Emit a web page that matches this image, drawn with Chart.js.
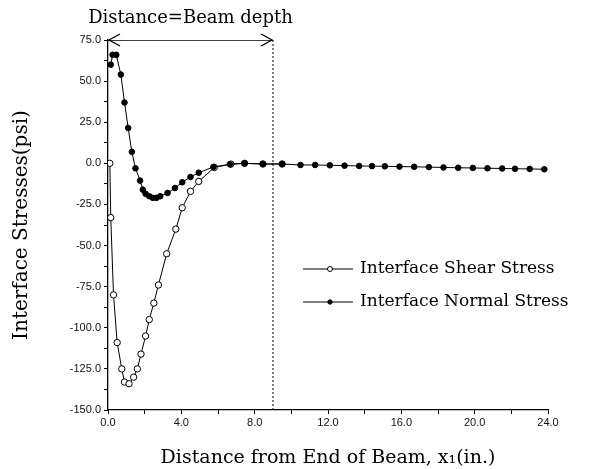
<!DOCTYPE html>
<html>
<head>
<meta charset="utf-8">
<script src="https://cdn.jsdelivr.net/npm/chart.js@4"></script>
<style>
  html, body { margin: 0; padding: 0; background: #fff; }
</style>
</head>
<body>
<canvas id="myChart" width="596" height="469"></canvas>
<script>
// Interface shear stress (open circles)
const shearX = [0.1, 0.15, 0.3, 0.5, 0.75, 0.9, 1.15, 1.4, 1.6, 1.8, 2.05, 2.25, 2.5, 2.75, 3.2, 3.7, 4.05, 4.5, 4.95, 5.8, 6.7, 7.45, 8.45, 9.5];
const shearY = [0, -33, -80, -109, -125, -133, -134, -130, -125, -116, -105, -95, -85, -74, -55, -40, -27, -17, -11, -2.5, -0.5, 0, -0.4, -0.4];

// Interface normal stress (filled circles)
const normalX = [0.15, 0.25, 0.45, 0.7, 0.9, 1.1, 1.3, 1.5, 1.75, 1.9, 2.05, 2.25, 2.45, 2.65, 2.85, 3.25, 3.65, 4.05, 4.5, 4.95, 5.75, 6.65, 7.45, 8.45, 9.5, 10.5, 11.3, 12.1, 12.9, 13.7, 14.4, 15.1, 15.9, 16.7, 17.5, 18.3, 19.1, 19.9, 20.7, 21.5, 22.2, 23.0, 23.8];
const normalY = [60, 66, 66, 54, 37, 21.5, 7, -3, -10.5, -16, -18.5, -20, -21, -21, -20, -18, -15, -11.5, -8.3, -5.7, -2.2, -0.6, 0, -0.4, -0.4, -1, -1, -1.2, -1.4, -1.6, -1.7, -1.8, -2, -2.1, -2.3, -2.5, -2.7, -2.8, -3, -3.1, -3.3, -3.4, -3.6];

const beamDepth = 9;
const xTicks = [0, 4, 8, 12, 16, 20, 24];
const yTicks = [75, 50, 25, 0, -25, -50, -75, -100, -125, -150];
const seriesNames = ["Interface Shear Stress", "Interface Normal Stress"];
const annotationLabel = "Distance=Beam depth";

const serif = '"DejaVu Serif", "Liberation Serif", serif';
const sans = '"Liberation Sans", Arial, sans-serif';

const toPoints = (xs, ys) => xs.map((x, i) => ({ x: x, y: ys[i] }));

// arrowheads, label above the arrow, and the legend box
const annotate = {
  id: "annotate",
  afterDatasetsDraw(chart) {
    const ctx = chart.ctx;
    const xs = chart.scales.x;
    const ys = chart.scales.y;
    const yTop = ys.getPixelForValue(ys.max);
    const x0 = xs.getPixelForValue(0);
    const x1 = xs.getPixelForValue(beamDepth);
    ctx.save();
    ctx.strokeStyle = "#000";
    ctx.lineWidth = 1.3;
    ctx.beginPath();
    ctx.moveTo(x0 + 12, yTop - 6);
    ctx.lineTo(x0 + 1, yTop);
    ctx.lineTo(x0 + 12, yTop + 6);
    ctx.moveTo(x1 - 12, yTop - 6);
    ctx.lineTo(x1 - 1, yTop);
    ctx.lineTo(x1 - 12, yTop + 6);
    ctx.stroke();

    ctx.fillStyle = "#000";
    ctx.font = "18px " + serif;
    ctx.textAlign = "center";
    ctx.textBaseline = "middle";
    ctx.fillText(annotationLabel, (x0 + x1) / 2, 18);

    // legend
    const lx = 303, rows = [269, 302];
    ctx.font = "17px " + serif;
    ctx.textAlign = "left";
    rows.forEach((ry, i) => {
      ctx.lineWidth = 1;
      ctx.beginPath();
      ctx.moveTo(lx, ry);
      ctx.lineTo(lx + 50, ry);
      ctx.stroke();
      ctx.beginPath();
      ctx.arc(lx + 27, ry, i === 0 ? 2.5 : 2.2, 0, Math.PI * 2);
      ctx.fillStyle = i === 0 ? "#fff" : "#000";
      ctx.fill();
      ctx.stroke();
      ctx.fillStyle = "#000";
      ctx.fillText(seriesNames[i], lx + 57, ry);
    });
    ctx.restore();
  }
};

const ctx = document.getElementById("myChart").getContext("2d");
new Chart(ctx, {
  type: "scatter",
  data: {
    datasets: [
      {
        label: seriesNames[1],
        data: toPoints(normalX, normalY),
        showLine: true,
        borderColor: "#000",
        borderWidth: 1,
        pointRadius: 2.8,
        pointBackgroundColor: "#000",
        pointBorderColor: "#000",
        order: 0
      },
      {
        label: seriesNames[0],
        data: toPoints(shearX, shearY),
        showLine: true,
        borderColor: "#000",
        borderWidth: 1,
        pointRadius: 3.2,
        pointBorderWidth: 1,
        pointBackgroundColor: "#fff",
        pointBorderColor: "#000",
        order: 1
      },
      {
        label: "depth",
        data: [{ x: beamDepth, y: yTicks[0] }, { x: beamDepth, y: yTicks[yTicks.length - 1] }],
        showLine: true,
        borderColor: "#000",
        borderWidth: 1,
        borderDash: [2, 2],
        pointRadius: 0,
        order: 2
      },
      {
        label: "arrow",
        data: [{ x: 0, y: yTicks[0] }, { x: beamDepth, y: yTicks[0] }],
        showLine: true,
        borderColor: "#000",
        borderWidth: 1.3,
        pointRadius: 0,
        order: 2
      }
    ]
  },
  options: {
    responsive: false,
    animation: false,
    layout: { padding: { top: 40, right: 48, left: 0, bottom: 0 } },
    plugins: {
      legend: { display: false },
      tooltip: { enabled: false }
    },
    scales: {
      x: {
        type: "linear",
        min: xTicks[0],
        max: xTicks[xTicks.length - 1],
        afterFit: (scale) => { scale.height = 59; },
        border: { display: true, color: "#000", width: 1.3 },
        grid: { drawOnChartArea: false, drawTicks: true, tickLength: 4, color: "#000" },
        ticks: {
          stepSize: 2,
          autoSkip: false,
          maxRotation: 0,
          padding: 2,
          color: "#111",
          font: { family: sans, size: 11 },
          callback: (v) => (xTicks.includes(v) ? v.toFixed(1) : "")
        },
        title: {
          display: true,
          text: "Distance from End of Beam, x\u2081(in.)",
          color: "#000",
          font: { family: serif, size: 19 },
          padding: { top: 4, bottom: 0 }
        }
      },
      y: {
        type: "linear",
        min: yTicks[yTicks.length - 1],
        max: yTicks[0],
        afterFit: (scale) => { scale.width = 108; },
        border: { display: true, color: "#000", width: 1.3 },
        grid: { drawOnChartArea: false, drawTicks: true, tickLength: 4, color: "#000" },
        ticks: {
          stepSize: 12.5,
          autoSkip: false,
          padding: 3,
          color: "#111",
          font: { family: sans, size: 11 },
          callback: (v) => (yTicks.includes(v) ? v.toFixed(1) : "")
        },
        title: {
          display: true,
          text: "Interface Stresses(psi)",
          color: "#000",
          font: { family: serif, size: 20 },
          padding: { top: 10, bottom: 0 }
        }
      }
    }
  },
  plugins: [annotate]
});
</script>
</body>
</html>
